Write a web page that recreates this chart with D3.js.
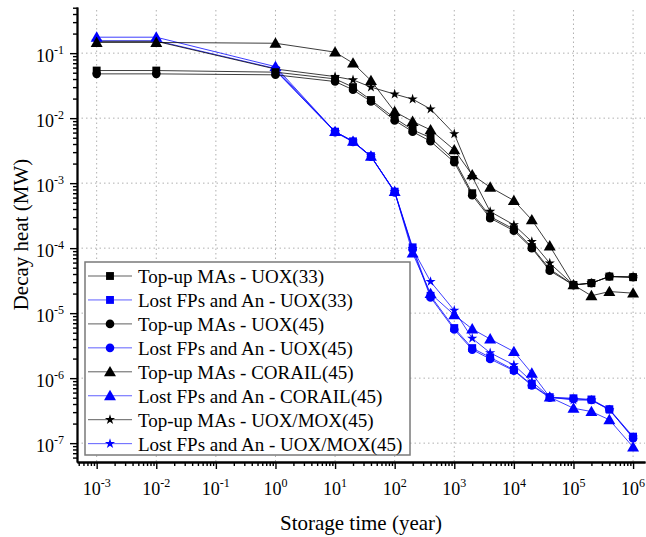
<!DOCTYPE html>
<html>
<head>
<meta charset="utf-8">
<script src="https://cdn.jsdelivr.net/npm/d3@7"></script>
<style>
  html, body { margin: 0; padding: 0; background: #fff; }
  svg { display: block; }
  svg text { font-family: "Liberation Serif", "Tinos", "Noto Serif", "DejaVu Serif", serif; }
</style>
</head>
<body>
<svg id="chart" width="646" height="537"></svg>
<script>
// Storage times (years) shared by every series
const years = [1e-3, 1e-2, 1, 10, 20, 40, 100, 200, 400, 1e3, 2e3, 4e3, 1e4, 2e4, 4e4, 1e5, 2e5, 4e5, 1e6];

// Decay heat (MW); null = no value at that time
const topupUOX33 = [0.054, 0.054, 0.051, 0.0402, 0.030, 0.019, 0.0100, 0.0066, 0.0050, 0.00228, 0.00070, 0.000306, 0.000196, 0.000104, 4.75e-5, 2.72e-5, 2.9e-5, 3.66e-5, 3.58e-5];
const lostUOX33   = [null, null, 0.055, 0.0062, 0.0044, 0.0026, 0.00074, 0.000103, 1.85e-5, 5.9e-6, 2.9e-6, 2.09e-6, 1.34e-6, 7.9e-7, 5.1e-7, 4.9e-7, 4.7e-7, 3.33e-7, 1.26e-7];
const topupUOX45  = [0.048, 0.048, 0.0464, 0.0366, 0.0273, 0.018, 0.0092, 0.0062, 0.0044, 0.0021, 0.00065, 0.00029, 0.000185, 0.0001, 4.5e-5, 2.7e-5, 2.9e-5, 3.66e-5, 3.58e-5];
const lostUOX45   = [null, null, 0.054, 0.0061, 0.0043, 0.00255, 0.00072, 9.6e-5, 1.75e-5, 5.6e-6, 2.75e-6, 1.97e-6, 1.3e-6, 7.7e-7, 5.0e-7, 4.8e-7, 4.6e-7, 3.3e-7, 1.19e-7];
const topupCORAIL = [0.146, 0.146, 0.142, 0.1036, 0.0702, 0.0379, 0.0126, 0.0089, 0.0066, 0.00325, 0.00134, 0.000867, 0.00054, 0.000272, 0.000108, 2.72e-5, 1.85e-5, 2.15e-5, 2.03e-5];
const lostCORAIL  = [0.176, 0.176, 0.062, 0.0062, 0.0044, 0.0026, 0.00074, 8.4e-5, 2.0e-5, 9.4e-6, 5.7e-6, 4.0e-6, 2.56e-6, 1.19e-6, 5.1e-7, 3.45e-7, 3.06e-7, 2.29e-7, 8.7e-8];
const topupMOX    = [0.152, 0.152, 0.057, 0.0436, 0.0388, 0.030, 0.0234, 0.0196, 0.0138, 0.00573, 0.00126, 0.000366, 0.000228, 0.000126, 5.88e-5, 2.72e-5, 2.9e-5, 3.66e-5, 3.58e-5];
const lostMOX     = [0.155, 0.155, 0.058, 0.0062, 0.0044, 0.0026, 0.00074, 9.8e-5, 3.06e-5, 1.1e-5, 4.1e-6, 2.45e-6, 1.6e-6, 8.9e-7, 5.1e-7, 4.6e-7, 4.6e-7, 3.25e-7, 1.23e-7];

const seriesNames = [
  "Top-up MAs - UOX(33)", "Lost FPs and An - UOX(33)",
  "Top-up MAs - UOX(45)", "Lost FPs and An - UOX(45)",
  "Top-up MAs - CORAIL(45)", "Lost FPs and An - CORAIL(45)",
  "Top-up MAs - UOX/MOX(45)", "Lost FPs and An - UOX/MOX(45)"
];
const seriesValues = [topupUOX33, lostUOX33, topupUOX45, lostUOX45, topupCORAIL, lostCORAIL, topupMOX, lostMOX];
const seriesColors = ["#000000", "#0000ff", "#000000", "#0000ff", "#000000", "#0000ff", "#000000", "#0000ff"];
const seriesSymbols = ["square", "square", "circle", "circle", "triangle", "triangle", "star", "star"];

const xExponents = [-3, -2, -1, 0, 1, 2, 3, 4, 5, 6];
const yExponents = [-1, -2, -3, -4, -5, -6, -7];

const xTitle = "Storage time (year)";
const yTitle = "Decay heat (MW)";

// ---- layout ----
const plotLeft = 77, plotRight = 645, plotTop = 7, plotBottom = 462;
const svg = d3.select("#chart");

const x = d3.scaleLog().domain([Math.pow(10, -3.33), Math.pow(10, 6.2)]).range([plotLeft, plotRight]);
const y = d3.scaleLog().domain([Math.pow(10, -7.29), Math.pow(10, -0.29)]).range([plotBottom, plotTop]);

// minor tick values (2..9 × 10^k) inside the domain
function minorTicks(scale, lo, hi) {
  const out = [];
  const [d0, d1] = scale.domain();
  for (let k = lo; k <= hi; k++) {
    for (let m = 2; m <= 9; m++) {
      const v = m * Math.pow(10, k);
      if (v >= d0 && v <= d1) out.push(v);
    }
  }
  return out;
}

// ---- grid ----
const grid = svg.append("g").attr("stroke", "#b0b0b0").attr("stroke-width", 1).attr("stroke-dasharray", "1.5,3");
grid.selectAll("line.gx").data(xExponents).join("line")
  .attr("class", "gx")
  .attr("x1", d => x(Math.pow(10, d))).attr("x2", d => x(Math.pow(10, d)))
  .attr("y1", plotTop + 3).attr("y2", plotBottom);
grid.selectAll("line.gy").data(yExponents).join("line")
  .attr("class", "gy")
  .attr("x1", plotLeft).attr("x2", plotRight)
  .attr("y1", d => y(Math.pow(10, d))).attr("y2", d => y(Math.pow(10, d)));

// ---- series ----
const symbolTypes = { square: d3.symbolSquare, circle: d3.symbolCircle, triangle: d3.symbolTriangle, star: d3.symbolStar };
const symbolSizes = { square: 62, circle: 58, triangle: 62, star: 32 };
function symbolPath(name) { return d3.symbol().type(symbolTypes[name]).size(symbolSizes[name])(); }

const line = d3.line()
  .defined(d => d.v != null)
  .x(d => x(d.t))
  .y(d => y(d.v));

// the first legend entry is painted last, so it sits on top
d3.range(seriesValues.length).reverse().forEach(i => {
  const vals = seriesValues[i];
  const pts = years.map((t, j) => ({ t, v: vals[j] }));
  const g = svg.append("g");
  g.append("path")
    .attr("d", line(pts))
    .attr("fill", "none")
    .attr("stroke", seriesColors[i])
    .attr("stroke-width", 0.9)
    .attr("stroke-opacity", 0.85);
  g.selectAll("path.mk").data(pts.filter(d => d.v != null)).join("path")
    .attr("class", "mk")
    .attr("d", symbolPath(seriesSymbols[i]))
    .attr("transform", d => `translate(${x(d.t)},${y(d.v) + (seriesSymbols[i] === "triangle" ? 1 : 0)})`)
    .attr("fill", seriesColors[i]);
});

// ---- axes ----
const axisG = svg.append("g");
const xMajorAxis = d3.axisBottom(x).tickValues(xExponents.map(e => Math.pow(10, e))).tickSize(7).tickSizeOuter(0).tickFormat("");
const xMinorAxis = d3.axisBottom(x).tickValues(minorTicks(x, -4, 6)).tickSize(4).tickSizeOuter(0).tickFormat("");
const yMajorAxis = d3.axisLeft(y).tickValues(yExponents.map(e => Math.pow(10, e))).tickSize(7).tickSizeOuter(0).tickFormat("");
const yMinorAxis = d3.axisLeft(y).tickValues(minorTicks(y, -8, -1)).tickSize(4).tickSizeOuter(0).tickFormat("");

[[xMinorAxis, "x"], [xMajorAxis, "x"], [yMinorAxis, "y"], [yMajorAxis, "y"]].forEach(([ax, k]) => {
  const g = axisG.append("g")
    .attr("transform", k === "x" ? `translate(0,${plotBottom})` : `translate(${plotLeft},0)`)
    .call(ax);
  g.select(".domain").attr("stroke", "#000").attr("stroke-width", 1.8);
  g.selectAll(".tick line").attr("stroke", "#000").attr("stroke-width", 1.4);
});

// ---- tick labels ----
const labels = svg.append("g").attr("fill", "#000");
xExponents.forEach(e => {
  const t = labels.append("text")
    .attr("x", x(Math.pow(10, e)))
    .attr("y", plotBottom + 33)
    .attr("text-anchor", "middle")
    .attr("font-size", 18);
  t.append("tspan").text("10");
  t.append("tspan").attr("dy", -8).attr("font-size", 12).text(String(e));
});
yExponents.forEach(e => {
  const t = labels.append("text")
    .attr("x", 64)
    .attr("y", y(Math.pow(10, e)) + 9)
    .attr("text-anchor", "end")
    .attr("font-size", 18);
  t.append("tspan").text("10");
  t.append("tspan").attr("dy", -8).attr("font-size", 12).text(String(e));
});

// ---- axis titles ----
labels.append("text")
  .attr("x", (plotLeft + plotRight) / 2).attr("y", 530)
  .attr("text-anchor", "middle").attr("font-size", 21)
  .text(xTitle);
labels.append("text")
  .attr("transform", `translate(28,${(plotTop + plotBottom) / 2}) rotate(-90)`)
  .attr("text-anchor", "middle").attr("font-size", 21)
  .text(yTitle);

// ---- legend ----
const legend = svg.append("g");
legend.append("rect")
  .attr("x", 85).attr("y", 262).attr("width", 325).attr("height", 193)
  .attr("fill", "#fff").attr("stroke", "#7a7a7a").attr("stroke-width", 1.5);
seriesNames.forEach((name, i) => {
  const cy = 276 + i * 23.95;
  const g = legend.append("g");
  g.append("line")
    .attr("x1", 88).attr("x2", 132).attr("y1", cy).attr("y2", cy)
    .attr("stroke", seriesColors[i]).attr("stroke-width", 0.9).attr("stroke-opacity", 0.7);
  g.append("path")
    .attr("d", symbolPath(seriesSymbols[i]))
    .attr("transform", `translate(110,${cy + (seriesSymbols[i] === "triangle" ? 1 : 0)})`)
    .attr("fill", seriesColors[i]);
  g.append("text")
    .attr("x", 138).attr("y", cy + 7)
    .attr("font-size", 19)
    .attr("fill", "#000")
    .text(name);
});
</script>
</body>
</html>
